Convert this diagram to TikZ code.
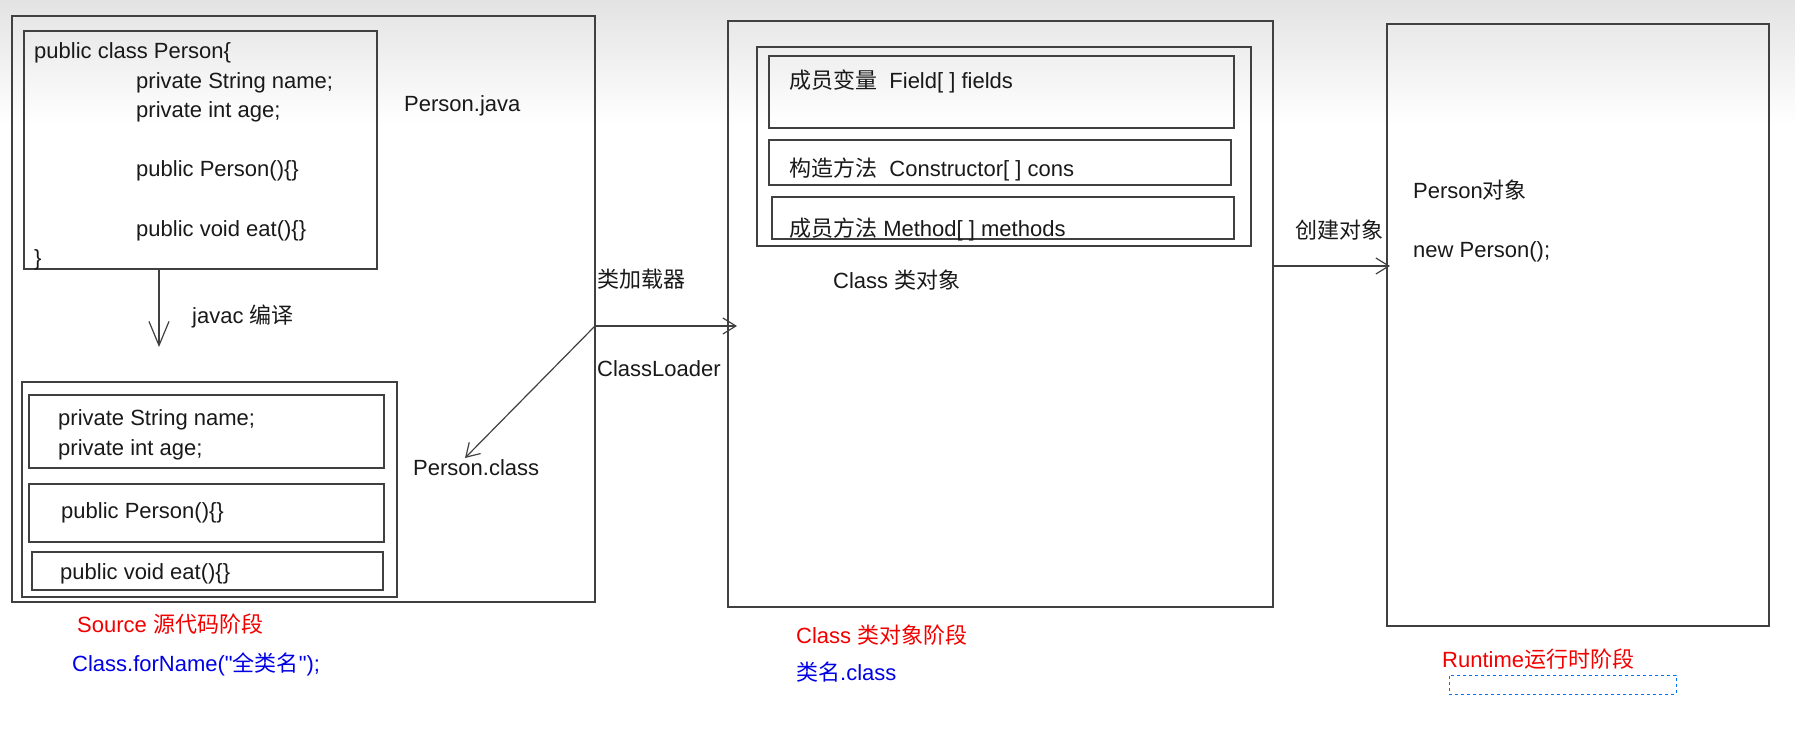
\documentclass[tikz,border=0pt]{standalone}
\usepackage{fontspec}
\setmainfont{Liberation Sans}
\newfontfamily\cjk{Noto Sans CJK SC}
\usetikzlibrary{arrows.meta}
\newcommand{\zh}[1]{{\cjk #1}}
\tikzstyle{box}=[draw=black!75,line width=1.5pt,anchor=north west,inner sep=0pt,outer sep=0pt]
\tikzstyle{txt}=[anchor=base west,inner sep=0pt,font=\fontsize{22}{26}\selectfont,text=black!90]
\tikzstyle{stage}=[txt,text=red!95!black]
\tikzstyle{call}=[txt,text=blue!90!black]
\tikzstyle{edge}=[draw=black!75,line width=1.2pt,-{Straight Barb[length=13pt,width=16pt]}]

\begin{document}
\begin{tikzpicture}[x=1pt,y=-1pt]
  \useasboundingbox (0,0) rectangle (1795,739);
  \shade[top color=black!11,bottom color=white] (0,0) rectangle (1795,125);

  % source stage
  \node[box,minimum width=583pt,minimum height=586pt] (src) at (12,16) {};
  \node[box,minimum width=353pt,minimum height=238pt] (code) at (24,31) {};
  \node[txt] (c1) at (34,58) {public class Person\{};
  \node[txt] (c2) at (136,88) {private String name;};
  \node[txt] (c3) at (136,117) {private int age;};
  \node[txt] (c4) at (136,176) {public Person()\{\}};
  \node[txt] (c5) at (136,236) {public void eat()\{\}};
  \node[txt] (c6) at (34,265) {\}};
  \node[txt] (pjava) at (404,111) {Person.java};
  \coordinate (javacend) at (159,347);
  \draw[edge,-{Straight Barb[length=24pt,width=20pt]}] (code.south -| javacend) -- (javacend);
  \node[txt] (javac) at (192,323) {javac \zh{编译}};
  \node[box,minimum width=375pt,minimum height=215pt] (cls) at (22,382) {};
  \node[box,minimum width=355pt,minimum height=73pt] (f1) at (29,395) {};
  \node[txt] (f1a) at (58,425) {private String name;};
  \node[txt] (f1b) at (58,455) {private int age;};
  \node[box,minimum width=355pt,minimum height=58pt] (f2) at (29,484) {};
  \node[txt] (f2a) at (61,518) {public Person()\{\}};
  \node[box,minimum width=351pt,minimum height=38pt] (f3) at (32,552) {};
  \node[txt] (f3a) at (60,579) {public void eat()\{\}};
  \node[txt] (pclass) at (413,475) {Person.class};
  \node[stage] (srcstage) at (77,632) {Source \zh{源代码阶段}};
  \node[call] (forname) at (72,671) {Class.forName(\textquotedbl\zh{全类名}\textquotedbl);};

  % class loader
  \coordinate (loadpt) at (595,326);
  \coordinate (loadend) at (737,326);
  \coordinate (pclassend) at (465,458);
  \draw[edge] (loadpt) -- (loadend);
  \draw[edge] (loadpt) -- (pclassend);
  \node[txt] (loader) at (597,287) {\zh{类加载器}};
  \node[txt] (loaderen) at (597,376) {ClassLoader};

  % class object stage
  \node[box,minimum width=545pt,minimum height=586pt] (mid) at (728,21) {};
  \node[box,minimum width=494pt,minimum height=199pt] (members) at (757,47) {};
  \node[box,minimum width=465pt,minimum height=72pt] (m1) at (769,56) {};
  \node[txt] (m1a) at (789,88) {\zh{成员变量}\ \ Field[ ] fields};
  \node[box,minimum width=462pt,minimum height=45pt] (m2) at (769,140) {};
  \node[txt] (m2a) at (789,176) {\zh{构造方法}\ \ Constructor[ ] cons};
  \node[box,minimum width=462pt,minimum height=42pt] (m3) at (772,197) {};
  \node[txt] (m3a) at (789,236) {\zh{成员方法} Method[ ] methods};
  \node[txt] (clsobj) at (833,288) {Class \zh{类对象}};
  \node[stage] (clsstage) at (796,643) {Class \zh{类对象阶段}};
  \node[call] (clsname) at (796,680) {\zh{类名}.class};

  % runtime stage
  \coordinate (newstart) at (1273,266);
  \coordinate (newend) at (1390,266);
  \draw[edge] (newstart) -- (newend);
  \node[txt] (create) at (1295,238) {\zh{创建对象}};
  \node[box,minimum width=382pt,minimum height=602pt] (rt) at (1387,24) {};
  \node[txt] (pobj) at (1413,198) {Person\zh{对象}};
  \node[txt] (pnew) at (1413,257) {new Person();};
  \node[stage] (rtstage) at (1442,667) {Runtime\zh{运行时阶段}};
  \node[box,draw=blue!55!cyan,line width=1pt,dashed,minimum width=227pt,minimum height=19pt] (sel) at (1449,675) {};
\end{tikzpicture}
\end{document}
